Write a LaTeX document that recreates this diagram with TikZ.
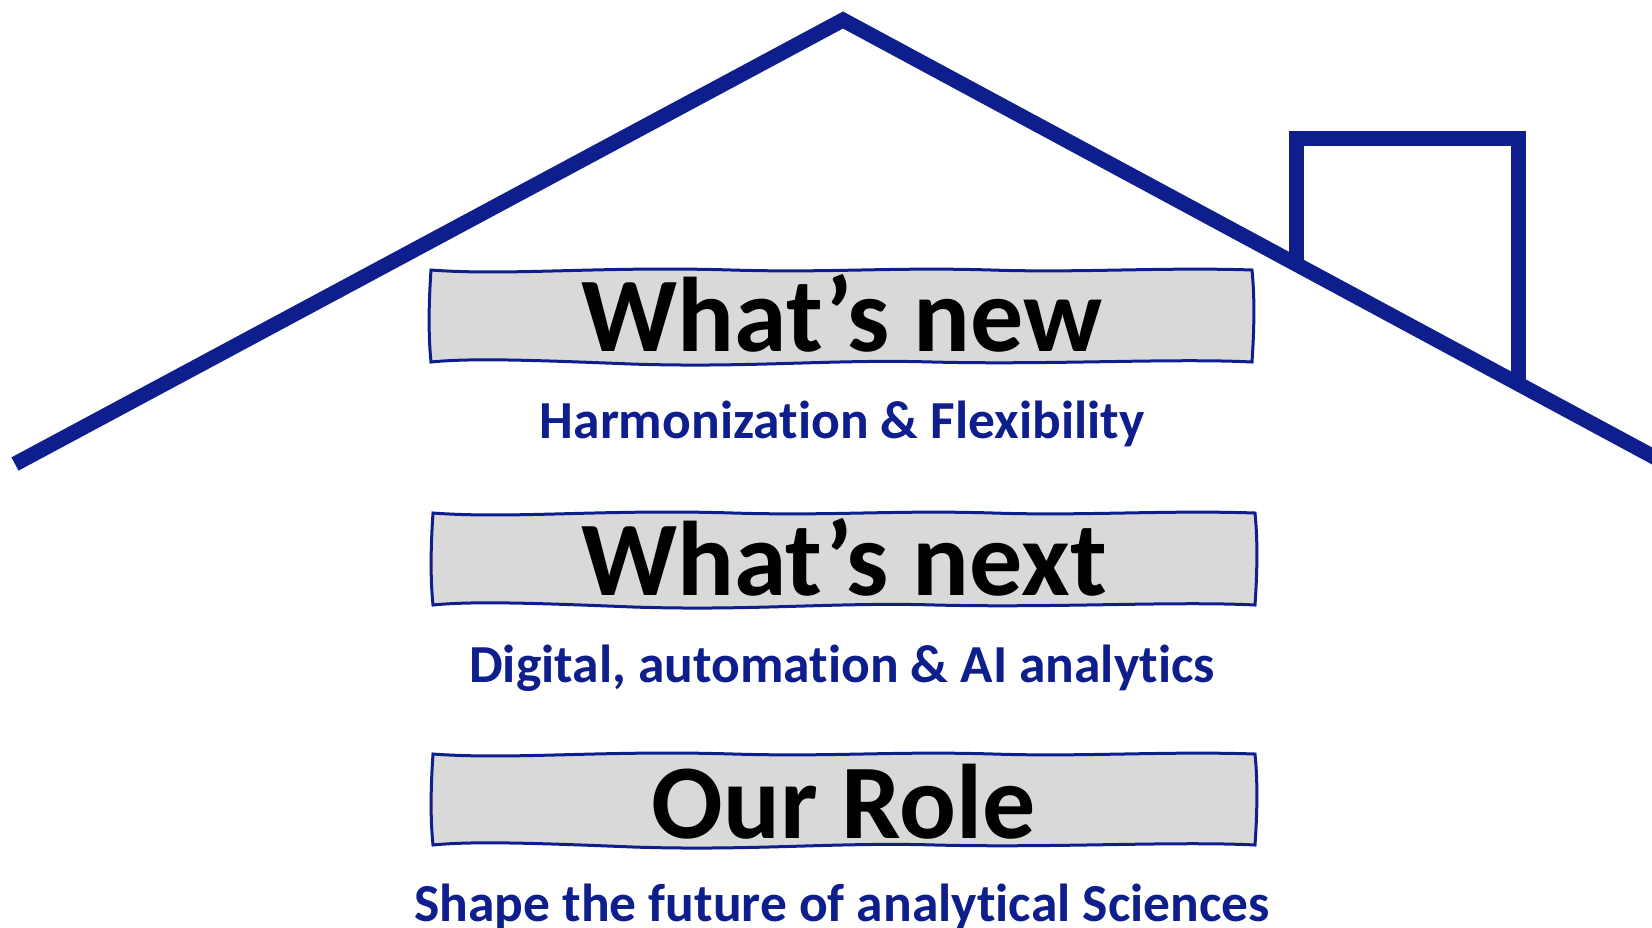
\documentclass[tikz,border=0pt]{standalone}
\usepackage{fontspec}
\setmainfont{Carlito}[RawFeature={-liga}]
\definecolor{roofblue}{RGB}{14,30,140}
\definecolor{boxgray}{RGB}{217,217,217}
\tikzset{
  roof/.style={draw=roofblue, line width=15pt, line join=miter},
  wavy/.style={draw=roofblue, fill=boxgray, line width=3pt},
  title/.style={anchor=base, inner sep=0pt, font=\fontsize{106}{106}\selectfont\bfseries, text=black},
  sub/.style={anchor=base, inner sep=0pt, font=\fontsize{53.5}{53.5}\selectfont\bfseries, text=roofblue},
}
\newcommand{\wavybox}[4]{%
  \path[wavy] (#1,#2)
    .. controls (#1+80,#2+6) and (#1+170,#2-4) .. (#1+300,#2)
    .. controls (#1+400,#2+3) and (#1+460,#2-3) .. (#1+560,#2)
    .. controls (#1+650,#2+3) and (#3-90,#2-3) .. (#3,#2)
    .. controls (#3+3,#2+30) and (#3+2,#4-30) .. (#3,#4)
    .. controls (#3-80,#4-4) and (#3-200,#4+3) .. (#3-320,#4)
    .. controls (#3-420,#4-3) and (#1+320,#4+6) .. (#1+200,#4+2)
    .. controls (#1+100,#4-2) and (#1+40,#4-4) .. (#1,#4)
    .. controls (#1-3,#4-30) and (#1-2,#2+30) .. cycle;}
\begin{document}
\begin{tikzpicture}[x=1pt,y=-1pt]
\useasboundingbox (0,0) rectangle (1652,927);
\clip (0,0) rectangle (1652,927);
% roof
\coordinate (eaveL) at (15,464);
\coordinate (peak) at (843,20);
\coordinate (eaveR) at (1680,471);
\draw[roof] (eaveL) -- (peak) -- (eaveR);
% chimney
\coordinate (chA) at (1296,265);
\coordinate (chB) at (1296,138);
\coordinate (chC) at (1518,138);
\coordinate (chD) at (1518,385);
\draw[roof] (chA) -- (chB) -- (chC) -- (chD);
% boxes
\wavybox{431}{270}{1252}{362}
\wavybox{433}{513}{1255}{605}
\wavybox{433}{754}{1255}{845}
% texts
\node[title] (t1) at (842,351) {What’s new};
\node[sub] (s1) at (842,438) {Harmonization \& Flexibility};
\node[title] (t2) at (844,595) {What’s next};
\node[sub] (s2) at (842,682) {Digital, automation \& AI analytics};
\node[title] (t3) at (844,838) {Our Role};
\node[sub] (s3) at (842,921) {Shape the future of analytical Sciences};
\end{tikzpicture}
\end{document}
